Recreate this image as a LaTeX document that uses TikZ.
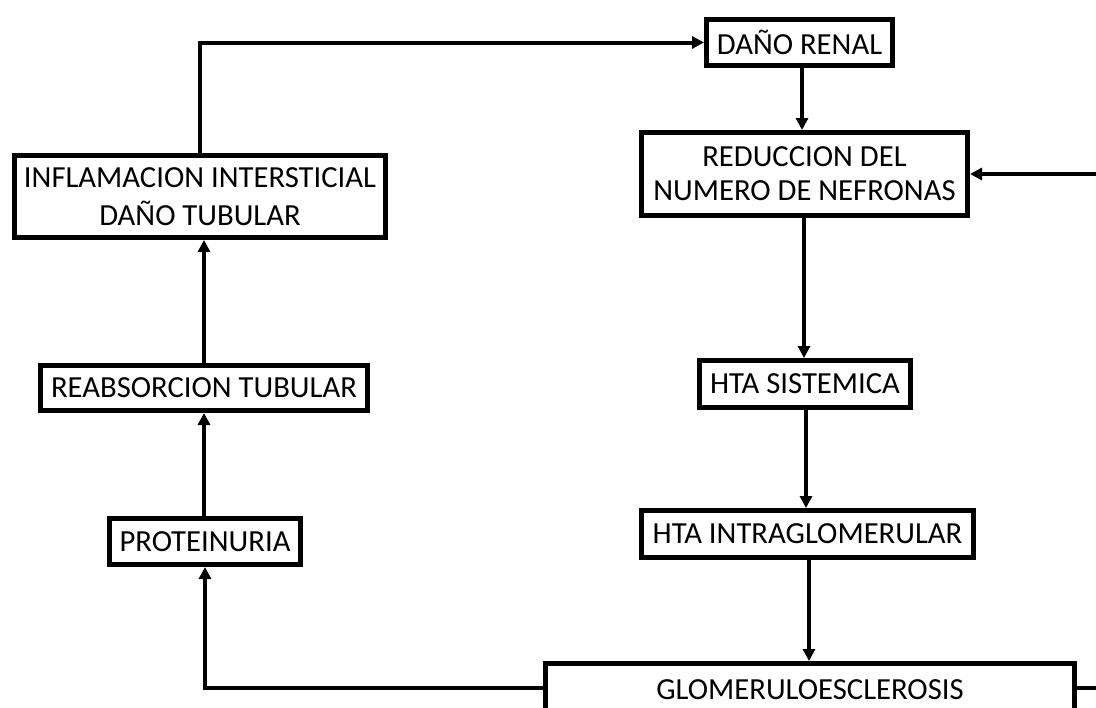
\documentclass[tikz,border=0pt]{standalone}
\usepackage{fontspec}
\setmainfont{Carlito}
\usetikzlibrary{arrows.meta}
\tikzset{
  box/.style={draw=black, line width=3.75pt, fill=white, inner sep=0pt, align=center,
    font=\fontsize{23pt}{27pt}\selectfont},
  link/.style={draw=black, line width=3pt, -{Triangle[length=9pt,width=9pt]}},
}
\begin{document}
\begin{tikzpicture}[x=0.75pt,y=-0.75pt]
\useasboundingbox (0,0) rectangle (1096,707);
\clip (0,0) rectangle (1096,707);
\fill[white] (0,0) rectangle (1096,707);

\node[box, minimum width=278.25pt, minimum height=61.5pt, font=\fontsize{23pt}{28pt}\selectfont] (infl) at (200,196.5) {INFLAMACION INTERSTICIAL\\DAÑO TUBULAR};
\node[box, minimum width=139.5pt, minimum height=34.5pt] (dano) at (799.5,42.5) {DAÑO RENAL};
\node[box, minimum width=244.5pt, minimum height=62.25pt, font=\fontsize{23pt}{25.5pt}\selectfont] (red) at (804.5,174) {REDUCCION DEL\\NUMERO DE NEFRONAS};
\node[box, minimum width=158.25pt, minimum height=35.25pt] (sist) at (805,384) {HTA SISTEMICA};
\node[box, minimum width=249pt, minimum height=35.25pt] (intra) at (807.5,534) {HTA INTRAGLOMERULAR};
\node[box, minimum width=396.75pt, minimum height=39.75pt] (glom) at (810,690) {GLOMERULOESCLEROSIS};
\node[box, minimum width=245.25pt, minimum height=33.75pt] (reab) at (204,388) {REABSORCION TUBULAR};
\node[box, minimum width=143.25pt, minimum height=34.5pt] (prot) at (205,541.5) {PROTEINURIA};

\coordinate (rb) at (1115,688);
\coordinate (rt) at (1115,174);
\coordinate (c1) at (802,0);
\coordinate (c2) at (804,0);
\coordinate (c3) at (806,0);
\coordinate (c4) at (809,0);
\coordinate (c5) at (204,0);

\draw[link] (infl.north) |- (dano.west);
\draw[link] (c1 |- dano.south) -- (c1 |- red.north);
\draw[link] (c2 |- red.south) -- (c2 |- sist.north);
\draw[link] (c3 |- sist.south) -- (c3 |- intra.north);
\draw[link] (c4 |- intra.south) -- (c4 |- glom.north);
\draw[link] (glom.west |- rb) -| (prot.south);
\draw[link] (c5 |- prot.north) -- (c5 |- reab.south);
\draw[link] (c5 |- reab.north) -- (c5 |- infl.south);
\draw[link] (glom.east |- rb) -- (rb) -- (rt) -- (red.east);
\end{tikzpicture}
\end{document}
